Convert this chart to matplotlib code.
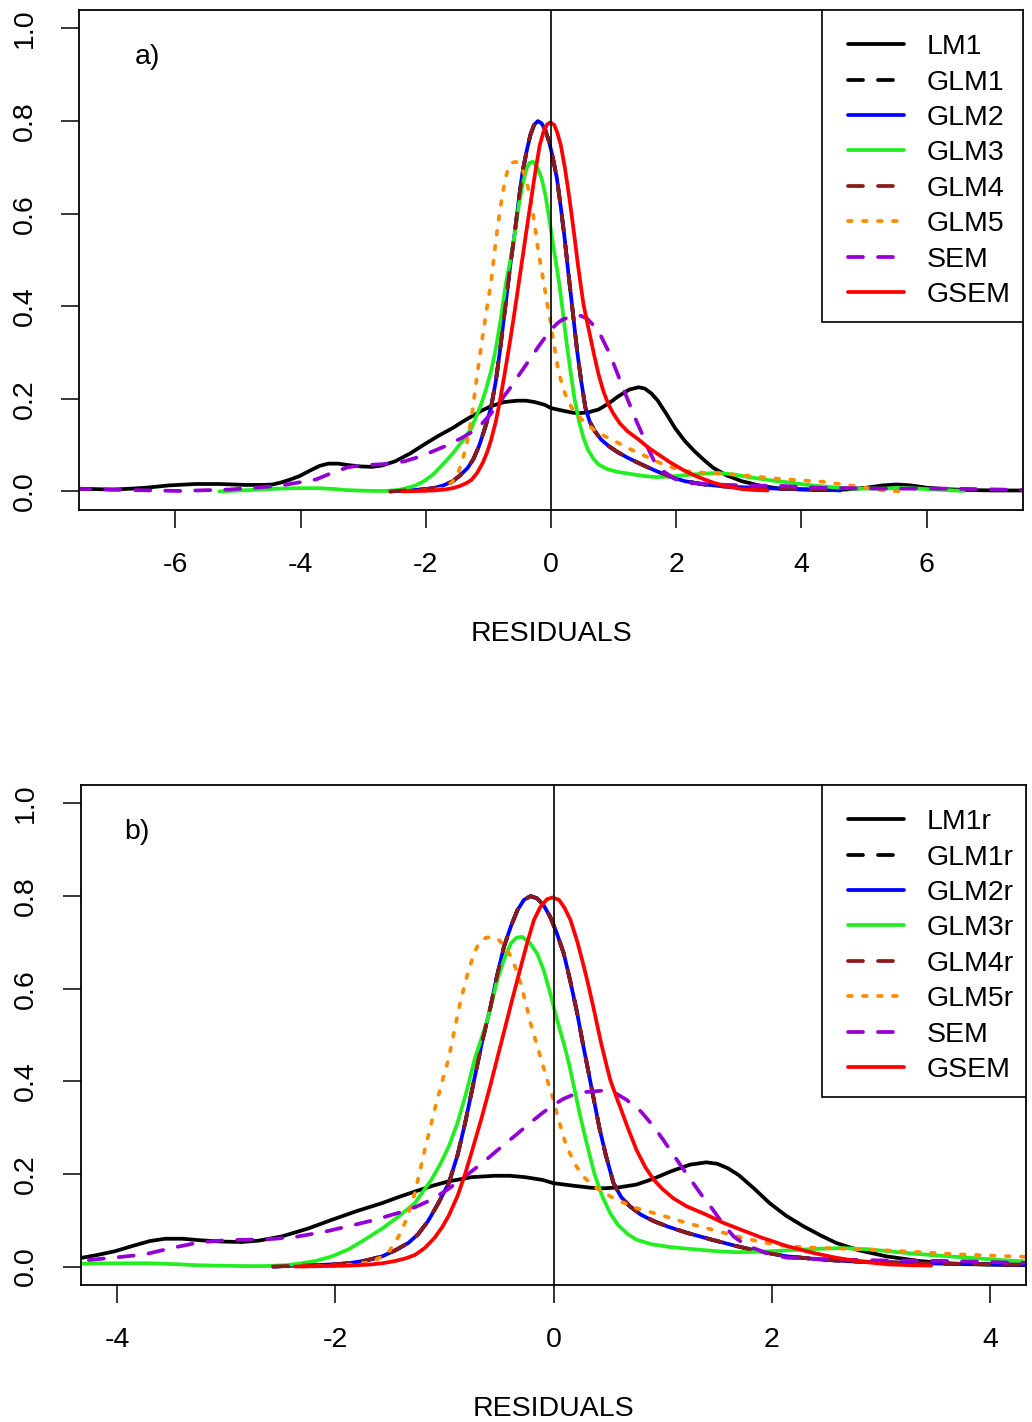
import matplotlib
matplotlib.use("Agg")
import matplotlib.pyplot as plt
from matplotlib.patches import Rectangle

plt.rcParams["font.family"] = ["Liberation Sans", "DejaVu Sans"]

# density curves of residuals (same curves in both panels)
lm1_x = [-7.6, -7.3, -7.0, -6.7, -6.47, -6.1, -5.68, -5.3, -4.88, -4.6,
         -4.45, -4.32, -4.18, -4.02, -3.85, -3.7, -3.56, -3.4, -3.25, -3.05,
         -2.86, -2.7, -2.49, -2.25, -2.03, -1.8, -1.57, -1.42, -1.27, -1.1,
         -0.96, -0.75, -0.54, -0.4, -0.26, -0.1, 0.0, 0.2, 0.35, 0.46,
         0.6, 0.76, 0.92, 1.07, 1.25, 1.40, 1.50, 1.60, 1.70, 1.84,
         1.98, 2.13, 2.29, 2.45, 2.59, 2.8, 3.05, 3.35, 3.66, 4.0,
         4.33, 4.7, 5.04, 5.3, 5.52, 5.75, 6.0, 6.3, 6.64, 7.1, 7.6]
lm1_y = [0.006, 0.005, 0.004, 0.006, 0.008, 0.013, 0.016, 0.016, 0.014, 0.014,
         0.015, 0.019, 0.025, 0.033, 0.045, 0.055, 0.060, 0.060, 0.057, 0.054,
         0.053, 0.056, 0.065, 0.082, 0.101, 0.120, 0.137, 0.150, 0.162, 0.175,
         0.184, 0.193, 0.196, 0.196, 0.193, 0.187, 0.180, 0.174, 0.170, 0.169,
         0.171, 0.177, 0.190, 0.205, 0.220, 0.225, 0.222, 0.212, 0.197, 0.168,
         0.137, 0.110, 0.087, 0.067, 0.051, 0.035, 0.022, 0.012, 0.006, 0.004,
         0.003, 0.004, 0.008, 0.013, 0.015, 0.013, 0.008, 0.005, 0.003, 0.002, 0.002]

glm2_x = [-2.57, -2.35, -2.18, -2.0, -1.88, -1.72, -1.57, -1.45, -1.33, -1.24,
          -1.15, -1.06, -0.96, -0.88, -0.81, -0.73, -0.65, -0.577, -0.52, -0.455,
          -0.39, -0.33, -0.27, -0.21, -0.15, -0.09, -0.03, 0.03, 0.094, 0.155,
          0.217, 0.27, 0.323, 0.37, 0.42, 0.48, 0.55, 0.62, 0.70, 0.80,
          0.92, 1.05, 1.22, 1.45, 1.68, 1.9, 2.14, 2.45, 2.75, 3.05,
          3.36, 3.97, 4.33, 4.62]
glm2_y = [0.0, 0.002, 0.003, 0.005, 0.007, 0.013, 0.022, 0.035, 0.051, 0.070,
          0.098, 0.135, 0.180, 0.240, 0.310, 0.400, 0.490, 0.561, 0.625, 0.690,
          0.735, 0.770, 0.792, 0.800, 0.795, 0.780, 0.755, 0.720, 0.676, 0.615,
          0.547, 0.480, 0.417, 0.360, 0.300, 0.240, 0.180, 0.150, 0.130, 0.112,
          0.098, 0.086, 0.073, 0.058, 0.044, 0.032, 0.022, 0.015, 0.011, 0.009,
          0.007, 0.005, 0.004, 0.002]

# GLM1 and GLM4 lie exactly on GLM2 in the figure
glm1_x = list(glm2_x)
glm1_y = list(glm2_y)
glm4_x = list(glm2_x)
glm4_y = list(glm2_y)

glm3_x = [-5.30, -4.8, -4.35, -4.08, -3.71, -3.45, -3.28, -3.10, -2.85, -2.64,
          -2.45, -2.34, -2.18, -2.03, -1.88, -1.73, -1.57, -1.42, -1.27, -1.12,
          -1.04, -0.96, -0.88, -0.80, -0.72, -0.65, -0.607, -0.56, -0.515, -0.45,
          -0.39, -0.34, -0.287, -0.22, -0.15, -0.09, -0.03, 0.03, 0.094, 0.14,
          0.186, 0.24, 0.30, 0.375, 0.45, 0.52, 0.59, 0.68, 0.76, 0.9,
          1.07, 1.3, 1.5, 1.68, 1.9, 2.14, 2.4, 2.65, 2.9, 3.2,
          3.5, 3.81, 4.1, 4.33, 4.8, 5.31, 5.63, 6.0, 6.59]
glm3_y = [0.0, 0.003, 0.006, 0.007, 0.007, 0.005, 0.003, 0.002, 0.001, 0.001,
          0.003, 0.006, 0.012, 0.022, 0.037, 0.058, 0.082, 0.108, 0.137, 0.187,
          0.220, 0.259, 0.310, 0.375, 0.450, 0.500, 0.532, 0.575, 0.619, 0.665,
          0.698, 0.710, 0.712, 0.700, 0.676, 0.640, 0.590, 0.535, 0.482, 0.440,
          0.390, 0.330, 0.270, 0.200, 0.150, 0.115, 0.090, 0.070, 0.058, 0.048,
          0.042, 0.037, 0.033, 0.031, 0.032, 0.035, 0.038, 0.040, 0.037, 0.030,
          0.024, 0.019, 0.014, 0.011, 0.006, 0.006, 0.008, 0.005, 0.001]

glm5_x = [-2.3, -2.0, -1.8, -1.67, -1.58, -1.50, -1.42, -1.35, -1.27, -1.18,
          -1.09, -1.02, -0.96, -0.90, -0.85, -0.79, -0.73, -0.68, -0.62, -0.56,
          -0.50, -0.44, -0.39, -0.34, -0.30, -0.25, -0.21, -0.16, -0.12, -0.058,
          0.0, 0.03, 0.08, 0.12, 0.2, 0.27, 0.36, 0.46, 0.6, 0.76,
          1.0, 1.22, 1.45, 1.68, 1.9, 2.14, 2.45, 2.75, 3.05, 3.36,
          3.65, 3.97, 4.33, 4.55, 4.78, 5.0, 5.31, 5.63]
glm5_y = [0.0, 0.002, 0.005, 0.010, 0.020, 0.035, 0.065, 0.100, 0.159, 0.252,
          0.338, 0.400, 0.450, 0.520, 0.575, 0.630, 0.675, 0.700, 0.710, 0.712,
          0.705, 0.690, 0.669, 0.640, 0.611, 0.565, 0.525, 0.485, 0.453, 0.403,
          0.360, 0.331, 0.290, 0.259, 0.220, 0.195, 0.175, 0.159, 0.142, 0.126,
          0.110, 0.094, 0.080, 0.065, 0.053, 0.044, 0.040, 0.038, 0.035, 0.031,
          0.027, 0.024, 0.021, 0.017, 0.013, 0.008, 0.002, 0.0]

sem_x = [-7.6, -6.74, -5.94, -5.14, -4.35, -4.0, -3.75, -3.5, -3.25, -3.0,
         -2.79, -2.55, -2.34, -2.1, -1.88, -1.65, -1.42, -1.27, -1.12, -0.96,
         -0.81, -0.66, -0.51, -0.35, -0.20, -0.1, 0.0, 0.09, 0.18, 0.3,
         0.46, 0.57, 0.67, 0.80, 0.92, 1.01, 1.10, 1.19, 1.28, 1.37,
         1.46, 1.55, 1.65, 1.74, 1.83, 1.98, 2.14, 2.59, 3.05, 3.66,
         4.24, 5.31, 6.37, 7.6]
sem_y = [0.006, 0.003, 0.001, 0.004, 0.012, 0.020, 0.026, 0.040, 0.052, 0.057,
         0.058, 0.060, 0.065, 0.075, 0.087, 0.100, 0.116, 0.128, 0.144, 0.168,
         0.195, 0.222, 0.252, 0.283, 0.313, 0.332, 0.349, 0.362, 0.371, 0.377,
         0.380, 0.374, 0.360, 0.335, 0.302, 0.272, 0.241, 0.210, 0.180, 0.150,
         0.123, 0.093, 0.065, 0.050, 0.040, 0.027, 0.019, 0.015, 0.013, 0.012,
         0.008, 0.006, 0.006, 0.003]

gsem_x = [-2.37, -2.1, -1.88, -1.7, -1.57, -1.45, -1.35, -1.27, -1.18, -1.09,
          -1.02, -0.96, -0.88, -0.81, -0.74, -0.66, -0.58, -0.51, -0.45, -0.38,
          -0.30, -0.24, -0.18, -0.12, -0.06, -0.01, 0.05, 0.10, 0.156, 0.22,
          0.27, 0.308, 0.37, 0.43, 0.48, 0.52, 0.57, 0.61, 0.68, 0.76,
          0.84, 0.92, 1.0, 1.1, 1.22, 1.4, 1.55, 1.68, 1.9, 2.14,
          2.35, 2.59, 2.8, 3.05, 3.25, 3.46]
gsem_y = [0.0, 0.001, 0.002, 0.004, 0.007, 0.012, 0.018, 0.025, 0.040, 0.062,
          0.085, 0.110, 0.152, 0.200, 0.255, 0.320, 0.390, 0.455, 0.510, 0.575,
          0.647, 0.700, 0.748, 0.777, 0.793, 0.797, 0.792, 0.775, 0.748, 0.700,
          0.655, 0.619, 0.555, 0.489, 0.440, 0.403, 0.370, 0.345, 0.300, 0.252,
          0.215, 0.187, 0.167, 0.147, 0.130, 0.112, 0.095, 0.083, 0.063, 0.044,
          0.031, 0.019, 0.011, 0.005, 0.003, 0.002]

labels_a = ["LM1", "GLM1", "GLM2", "GLM3", "GLM4", "GLM5", "SEM", "GSEM"]
labels_b = ["LM1r", "GLM1r", "GLM2r", "GLM3r", "GLM4r", "GLM5r", "SEM", "GSEM"]
xticks_a = [-6, -4, -2, 0, 2, 4, 6]
xticks_b = [-4, -2, 0, 2, 4]
yticks = [0.0, 0.2, 0.4, 0.6, 0.8, 1.0]

curves = [(lm1_x, lm1_y), (glm1_x, glm1_y), (glm2_x, glm2_y), (glm3_x, glm3_y),
          (glm4_x, glm4_y), (glm5_x, glm5_y), (sem_x, sem_y), (gsem_x, gsem_y)]
colors = ["black", "black", "#0000FF", "#22EE22", "#8B1A1A", "#FF8C00",
          "#9400D3", "#FF0000"]
DASH = (0, (4, 4))
DOT = (0, (1, 3))
styles = ["-", DASH, "-", "-", DASH, DOT, DASH, "-"]

FS = 20.5
LW = 2.7


def draw_panel(ax, labels, xlim, xticks, tag, tag_x, leg_x, box_x):
    for (x, y), c, ls, lab in zip(curves, colors, styles, labels):
        ax.plot(x, y, color=c, ls=ls, lw=LW, label=lab,
                dash_capstyle="round", solid_capstyle="round",
                solid_joinstyle="round")
    ax.axvline(0, color="black", lw=1.2)
    ax.set_xlim(*xlim)
    ax.set_ylim(-0.04, 1.04)
    ax.set_xticks(xticks)
    ax.set_xticklabels([str(t) for t in xticks])
    ax.set_yticks(yticks)
    ax.set_yticklabels([f"{t:.1f}" for t in yticks], rotation=90, va="center")
    ax.tick_params(direction="out", length=13, width=1.1, labelsize=FS, pad=17)
    for s in ax.spines.values():
        s.set_linewidth(1.3)
    ax.set_xlabel("RESIDUALS", fontsize=FS, labelpad=31)
    ax.text(tag_x, 0.905, tag, transform=ax.transAxes,
            fontsize=FS, ha="center", va="center")
    # legend box like R's: frame drawn separately so the content sits where R puts it
    ax.add_patch(Rectangle((box_x, 0.376), 1.0 - box_x, 0.624,
                           transform=ax.transAxes, facecolor="white",
                           edgecolor="black", lw=1.2, zorder=5))
    leg = ax.legend(loc="upper left", bbox_to_anchor=(leg_x, 1.0),
                    borderaxespad=0, fontsize=FS, frameon=False,
                    handlelength=1.95, handletextpad=0.8, borderpad=0.85,
                    labelspacing=0.33)
    leg.set_zorder(6)


fig = plt.figure(figsize=(10.32, 14.22), dpi=100)
ax_a = fig.add_axes([0.0766, 0.6414, 0.9147, 0.3516])
ax_b = fig.add_axes([0.0785, 0.0963, 0.9157, 0.3517])

draw_panel(ax_a, labels_a, (-7.54, 7.54), xticks_a, "a)", 0.072, 0.789, 0.787)
draw_panel(ax_b, labels_b, (-4.33, 4.33), xticks_b, "b)", 0.059, 0.786, 0.784)

fig.savefig("out.png", dpi=100)
